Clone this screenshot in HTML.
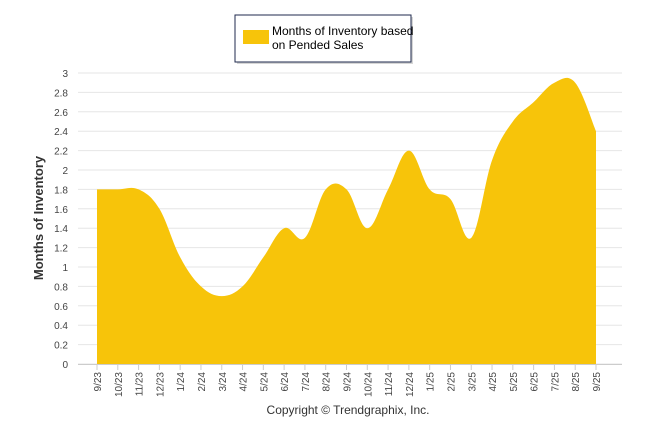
<!DOCTYPE html>
<html><head><meta charset="utf-8"><style>
body{margin:0;background:#fff;font-family:"Liberation Sans",sans-serif}
</style></head><body>
<svg id="c" width="646" height="434" xmlns="http://www.w3.org/2000/svg">
<g>
<rect x="237" y="17" width="176" height="47" fill="#999" opacity="0.4"/>
<rect x="235" y="15" width="176" height="47" fill="#fff" stroke="#1f2a4d" stroke-width="1"/>
<rect x="243" y="30" width="26" height="14" fill="#f7c40a"/>
<text x="272" y="35" font-size="12" fill="#000">Months of Inventory based</text>
<text x="272" y="49" font-size="12" fill="#000">on Pended Sales</text>
</g>
<g id="grid"></g>
<path id="area" fill="#f7c40a"/>
<g id="xt"></g>
<text transform="translate(43,218) rotate(-90)" text-anchor="middle" font-size="13" font-weight="bold" fill="#333">Months of Inventory</text>
<text x="348" y="414" text-anchor="middle" font-size="12" fill="#333">Copyright © Trendgraphix, Inc.</text>
</svg>
<script>
const categories=["9/23","10/23","11/23","12/23","1/24","2/24","3/24","4/24","5/24","6/24","7/24","8/24","9/24","10/24","11/24","12/24","1/25","2/25","3/25","4/25","5/25","6/25","7/25","8/25","9/25"];
const values=[1.8,1.8,1.8,1.6,1.1,0.8,0.7,0.8,1.1,1.4,1.3,1.8,1.8,1.4,1.8,2.2,1.8,1.7,1.3,2.1,2.5,2.7,2.9,2.9,2.4];
const yTicks=[0,0.2,0.4,0.6,0.8,1,1.2,1.4,1.6,1.8,2,2.2,2.4,2.6,2.8,3];
const ns="http://www.w3.org/2000/svg";
const X0=97,X1=596,Y0=364,Y1=73,YMAX=3;
const xs=i=>X0+(X1-X0)*i/(categories.length-1);
const ys=v=>Y0-(Y0-Y1)*v/YMAX;
const grid=document.getElementById('grid');
yTicks.forEach(t=>{
 const l=document.createElementNS(ns,'line');
 l.setAttribute('x1',78);l.setAttribute('x2',622);l.setAttribute('y1',ys(t));l.setAttribute('y2',ys(t));
 l.setAttribute('stroke','#e6e6e6');
 
 
 grid.appendChild(l);
 const tx=document.createElementNS(ns,'text');
 tx.setAttribute('x',68);tx.setAttribute('y',ys(t)+4);tx.setAttribute('text-anchor','end');
 tx.setAttribute('font-size','10');tx.setAttribute('fill','#444');tx.textContent=t;
 
 
 grid.appendChild(tx);
});
const ax=document.createElementNS(ns,'line');
ax.setAttribute('x1',78);ax.setAttribute('x2',622);ax.setAttribute('y1',Y0+0.5);ax.setAttribute('y2',Y0+0.5);ax.setAttribute('stroke','#ccc');


grid.appendChild(ax);
const xt=document.getElementById('xt');
categories.forEach((c,i)=>{
 const x=xs(i);
 const tk=document.createElementNS(ns,'line');
 tk.setAttribute('x1',x);tk.setAttribute('x2',x);tk.setAttribute('y1',Y0);tk.setAttribute('y2',Y0+6);tk.setAttribute('stroke','#ccc');
 
 
 xt.appendChild(tk);
 const t=document.createElementNS(ns,'text');
 t.setAttribute('transform',`translate(${x+4},${Y0+8}) rotate(-90)`);
 t.setAttribute('text-anchor','end');t.setAttribute('font-size','10');t.setAttribute('fill','#444');
 t.textContent=c;
 
 
 xt.appendChild(t);
});
const pts=values.map((v,i)=>[xs(i),ys(v)]);
let d=`M${pts[0][0]},${Y0} L${pts[0][0]},${pts[0][1]}`;
for(let i=0;i<pts.length-1;i++){
 const p0=pts[i-1]||pts[i],p1=pts[i],p2=pts[i+1],p3=pts[i+2]||pts[i+1];
 const k=0.18;
 d+=` C${p1[0]+(p2[0]-p0[0])*k},${p1[1]+(p2[1]-p0[1])*k} ${p2[0]-(p3[0]-p1[0])*k},${p2[1]-(p3[1]-p1[1])*k} ${p2[0]},${p2[1]}`;
}
d+=` L${pts[pts.length-1][0]},${Y0} Z`;
document.getElementById('area').setAttribute('d',d);
</script>
</body></html>
